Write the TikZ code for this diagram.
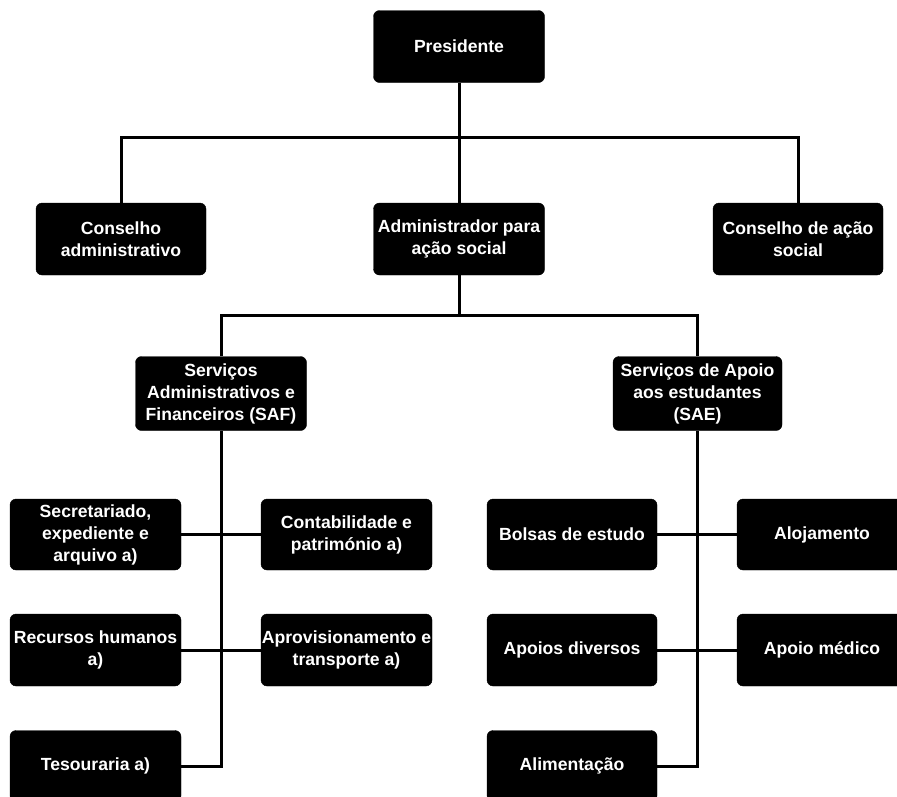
\documentclass[tikz,border=0pt]{standalone}
\usepackage{fontspec}
\setmainfont{Liberation Sans}
\begin{document}
\begin{tikzpicture}[x=1pt,y=-1pt,
  orgbox/.style={draw=black,fill=black,rounded corners=6pt,text=white,
    font=\bfseries\fontsize{17.6}{22}\selectfont,align=center,inner sep=0pt,
    minimum width=171pt,minimum height=72pt},
  link/.style={draw=black,line width=3pt}]
\useasboundingbox[fill=white] (0,0) rectangle (897,796);
% level 1
\node[orgbox] (pres) at (459,46.5) {Presidente};
% level 2
\node[orgbox,minimum width=170pt] (cadm) at (121,239) {Conselho\\administrativo};
\node[orgbox] (admin) at (459,239) {Administrador para\\ação social};
\node[orgbox,minimum width=170pt] (csoc) at (798,239) {Conselho de ação\\social};
% level 3
\node[orgbox,minimum height=74pt] (saf) at (221,393.5) {Serviços\\Administrativos e\\Financeiros (SAF)};
\node[orgbox,minimum width=169pt,minimum height=74pt] (sae) at (697.5,393.5) {Serviços de Apoio\\aos estudantes\\(SAE)};
% level 4 left
\node[orgbox,minimum height=71pt] (sec) at (95.5,534.5) {Secretariado,\\expediente e\\arquivo a)};
\node[orgbox,minimum height=71pt] (cont) at (346.5,534.5) {Contabilidade e\\património a)};
\node[orgbox] (rh) at (95.5,650) {Recursos humanos\\a)};
\node[orgbox] (aprov) at (346.5,650) {Aprovisionamento e\\transporte a)};
\node[orgbox,minimum height=71pt] (tes) at (95.5,766) {Tesouraria a)};
% level 4 right
\node[orgbox,minimum width=170pt,minimum height=71pt] (bolsas) at (572,534.5) {Bolsas de estudo};
\node[orgbox,minimum width=170pt,minimum height=71pt] (aloj) at (822,534.5) {Alojamento};
\node[orgbox,minimum width=170pt] (apdiv) at (572,650) {Apoios diversos};
\node[orgbox,minimum width=170pt] (apmed) at (822,650) {Apoio médico};
\node[orgbox,minimum width=170pt,minimum height=71pt] (alim) at (572,766) {Alimentação};
% connectors
\coordinate (b1) at (459,137);
\coordinate (b2) at (459,315);
\draw[link] (pres.south) -- (b1);
\draw[link] (cadm.north) |- (b1) -| (csoc.north);
\draw[link] (b1) -- (admin.north);
\draw[link] (admin.south) -- (b2);
\draw[link] (saf.north) |- (b2) -| (sae.north);
\draw[link] (saf.south) |- (tes.east);
\draw[link] (sec.east) -- (cont.west);
\draw[link] (rh.east) -- (aprov.west);
\draw[link] (sae.south) |- (alim.east);
\draw[link] (bolsas.east) -- (aloj.west);
\draw[link] (apdiv.east) -- (apmed.west);
\end{tikzpicture}
\end{document}
